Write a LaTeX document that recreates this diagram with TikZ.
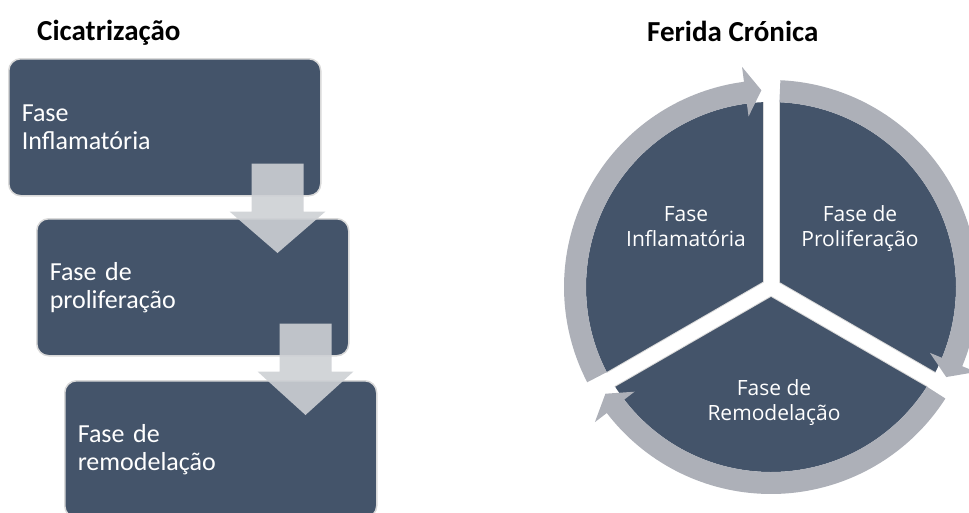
\documentclass[tikz,border=0pt]{standalone}
\usepackage{fontspec}
\setmainfont{Carlito}
\newfontfamily\circfont{Open Sans}
\usetikzlibrary{calc}
\definecolor{slate}{HTML}{44546A}
\definecolor{edgegray}{HTML}{D9D9D9}
\definecolor{flowgray}{HTML}{CDD0D4}
\definecolor{ringgray}{HTML}{ADB0B8}

\begin{document}
\begin{tikzpicture}
[x=1pt,y=1pt,%
  phasebox/.style={rectangle,rounded corners=12pt,fill=slate,draw=edgegray,line width=1.5pt,%
    text=white,text width=286pt,inner xsep=13pt,inner ysep=0pt,minimum height=137pt,%
    align=left,anchor=north west,font=\fontsize{26}{28}\selectfont},%
  heading/.style={anchor=base west,inner sep=0pt,font=\bfseries\fontsize{29}{32}\selectfont},%
  flowarrow/.style={fill=flowgray,fill opacity=0.9},%
  slicelabel/.style={text=white,align=center,inner sep=0pt,font=\circfont\fontsize{21}{25}\selectfont},%
  ringarrow/.style={fill=ringgray}]
\useasboundingbox (0,0) rectangle (969,-512);
\clip (0,0) rectangle (969,-512);

% Cicatrizacao
\node[heading] (cic) at (37,-40) {Cicatrização};
\node[phasebox] (b1) at (8,-58) {Fase\\Inflamatória};
\node[phasebox] (b2) at (36,-218) {Fase de\\proliferação};
\node[phasebox] (b3) at (64,-380) {Fase de\\remodelação};
\foreach \from/\to in {b1/b2,b2/b3}
  \fill[flowarrow] ($(\from.south east)+(-70,33)$) -- ++(52,0) -- ++(0,-48) -- ++(22,0)
    -- ($(\to.north east)+(-72,-35)$) -- ($(\from.south east)+(-92,-15)$) -- ++(22,0) -- cycle;

% Ferida cronica
\node[heading] (fc) at (647,-41) {Ferida Crónica};
\coordinate (c) at (771,-287);
\fill[slate] (c) circle (185);
\foreach \g in {90,-30,210}
  \draw[edgegray,line width=17pt] (c) -- ++(\g:185);
\foreach \g in {90,-30,210}
  \draw[white,line width=15pt] (c) -- ++(\g:190);
\foreach \g in {90,-30,210}{
  \pgfmathsetmacro\sA{\g+117.4}
  \pgfmathsetmacro\eA{\g+7.5}
  \pgfmathsetmacro\tA{\g+2.8}
  \fill[ringarrow] ($(c)+(\sA:207)$) arc[start angle=\sA,end angle=\eA,radius=207]
    -- ($(c)+(\eA:222)$) -- ($(c)+(\tA:197)$) -- ($(c)+(\eA:172)$)
    -- ($(c)+(\eA:185)$) arc[start angle=\eA,end angle=\sA,radius=185] -- cycle;
}
\node[slicelabel] (infl) at ($(c)+(-85,60)$) {Fase\\Inflamatória};
\node[slicelabel] (prol) at ($(c)+(89,58)$) {Fase de\\Proliferação};
\node[slicelabel] (remo) at ($(c)+(3,-116)$) {Fase de\\Remodelação};
\end{tikzpicture}
\end{document}
